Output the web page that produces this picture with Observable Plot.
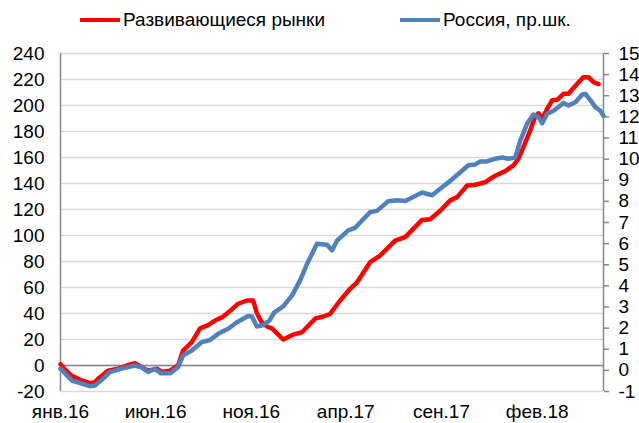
<!DOCTYPE html>
<html><head><meta charset="utf-8">
<script src="https://cdn.jsdelivr.net/npm/d3@7"></script>
<script src="https://cdn.jsdelivr.net/npm/@observablehq/plot@0.6"></script>
<style>
body{margin:0;background:#fff;font-family:"Liberation Sans",Arial,sans-serif;}
#wrap{position:relative;width:639px;height:423px;overflow:hidden;}
.leg{position:absolute;top:9px;font-size:19px;line-height:22px;display:flex;align-items:center;white-space:nowrap;color:#000;}
.sw{display:inline-block;width:40px;height:4px;margin-right:3px;}
</style></head>
<body><div id="wrap"><div id="chart"></div>
<div class="leg" style="left:80px"><span class="sw" style="background:#ff0000"></span>Развивающиеся рынки</div>
<div class="leg" style="left:400px"><span class="sw" style="background:#4f81bd"></span>Россия, пр.шк.</div>
</div>
<script>
const seriesNames = ["Развивающиеся рынки", "Россия, пр.шк."];
const xTickDates = ["2016-01-01","2016-06-01","2016-11-01","2017-04-01","2017-09-01","2018-02-01"];
const xTickLabels = ["янв.16","июн.16","ноя.16","апр.17","сен.17","фев.18"];
const leftTicks = [-20,0,20,40,60,80,100,120,140,160,180,200,220,240];
const rightTicks = [-1,0,1,2,3,4,5,6,7,8,9,10,11,12,13,14,15];

const emDates = ["2016-01-01","2016-01-06","2016-01-19","2016-02-04","2016-02-17","2016-02-25","2016-03-04","2016-03-17","2016-04-02","2016-04-16","2016-04-29","2016-05-10","2016-05-20","2016-06-03","2016-06-11","2016-06-24","2016-07-07","2016-07-15","2016-07-29","2016-08-11","2016-08-24","2016-09-04","2016-09-15","2016-09-28","2016-10-11","2016-10-25","2016-11-04","2016-11-10","2016-11-18","2016-11-26","2016-12-04","2016-12-22","2017-01-07","2017-01-21","2017-02-11","2017-02-24","2017-03-07","2017-03-23","2017-04-08","2017-04-19","2017-05-10","2017-05-26","2017-06-19","2017-07-05","2017-08-01","2017-08-14","2017-08-30","2017-09-15","2017-09-26","2017-10-12","2017-10-25","2017-11-10","2017-11-26","2017-12-12","2017-12-25","2018-01-02","2018-01-10","2018-01-21","2018-01-29","2018-02-03","2018-02-09","2018-02-17","2018-02-25","2018-03-05","2018-03-15","2018-03-23","2018-04-06","2018-04-16","2018-04-24","2018-05-02","2018-05-10"];
const emValues = [1,-2,-8,-11.5,-13.6,-12.8,-9,-4,-2.5,0,1.8,-1.3,-4,-2.5,-5,-4,0,11.5,18,28.5,31,34.6,37,42,47.5,50,50,40,33,30,28.5,20,23.8,25.6,36,37.7,39.7,50,59,64,79.5,84.6,96,98.7,112,112.5,119,127,129.5,138.5,139,141,146,149.5,154,159,168,181,192,194,190,197.5,204,204.4,209,209,216.7,221.8,221.8,218,216.5];

const ruDates = ["2016-01-01","2016-01-19","2016-02-04","2016-02-17","2016-02-25","2016-03-07","2016-03-20","2016-04-08","2016-04-29","2016-05-10","2016-05-20","2016-05-31","2016-06-09","2016-06-24","2016-07-07","2016-07-15","2016-07-29","2016-08-14","2016-08-27","2016-09-09","2016-09-25","2016-10-09","2016-10-27","2016-11-02","2016-11-10","2016-11-19","2016-11-30","2016-12-08","2016-12-22","2017-01-05","2017-01-18","2017-01-29","2017-02-14","2017-03-02","2017-03-10","2017-03-18","2017-04-05","2017-04-16","2017-05-10","2017-05-21","2017-06-08","2017-06-22","2017-07-05","2017-08-01","2017-08-17","2017-08-30","2017-09-15","2017-10-01","2017-10-14","2017-10-25","2017-11-02","2017-11-13","2017-11-26","2017-12-07","2017-12-17","2017-12-28","2018-01-05","2018-01-16","2018-01-26","2018-02-03","2018-02-09","2018-02-17","2018-02-27","2018-03-15","2018-03-23","2018-04-03","2018-04-14","2018-04-19","2018-04-27","2018-05-05","2018-05-13","2018-05-18"];
const ruValues = [0.08,-0.48,-0.63,-0.75,-0.72,-0.45,-0.08,0.08,0.23,0.14,-0.08,0.08,-0.14,-0.14,0.15,0.71,0.94,1.34,1.44,1.73,1.97,2.28,2.57,2.55,2.08,2.13,2.36,2.75,3.03,3.54,4.26,5.03,5.99,5.95,5.68,6.14,6.63,6.75,7.49,7.55,8.01,8.05,8.02,8.42,8.29,8.60,8.97,9.38,9.71,9.75,9.89,9.89,10.02,10.08,10.02,10.08,10.88,11.68,12.11,11.99,11.70,12.15,12.29,12.65,12.54,12.69,13.06,13.09,12.79,12.46,12.29,12.05];

// secondary (right) axis -1..15 mapped onto primary -20..240
const toLeft = v => -20 + (v + 1) * 260 / 16;
const fromLeft = y => (y + 20) * 16 / 260 - 1;

const em = emDates.map((d, i) => ({date: new Date(d), v: emValues[i]}));
const ru = ruDates.map((d, i) => ({date: new Date(d), v: ruValues[i]}));
const xDomain = [new Date("2016-01-01"), new Date("2018-05-18")];
const labelMap = new Map(xTickDates.map((d, i) => [+new Date(d), xTickLabels[i]]));

const chart = Plot.plot({
  width: 639, height: 423,
  marginLeft: 60, marginRight: 36, marginTop: 53, marginBottom: 32,
  style: {fontFamily: "'Liberation Sans', Arial, sans-serif", fontSize: "19px", color: "#000", background: "#fff"},
  x: {type: "utc", domain: xDomain},
  y: {domain: [-20, 240]},
  marks: [
    Plot.gridY(leftTicks, {stroke: "#d9d9d9", strokeOpacity: 1, strokeWidth: 1.5}),
    Plot.ruleY([0], {stroke: "#868686", strokeWidth: 1.5}),
    Plot.ruleX([xDomain[0]], {y1: -20, y2: 240, stroke: "#868686", strokeWidth: 1.5}),
    Plot.ruleX([xDomain[1]], {y1: -20, y2: 240, stroke: "#868686", strokeWidth: 1.5}),
    Plot.axisY(leftTicks, {anchor: "left", tickSize: 0, tickPadding: 16, tickFormat: d => String(d), label: null, fill: "#000"}),
    Plot.axisY(rightTicks.map(toLeft), {anchor: "right", tickSize: 5, tickPadding: 10, tickFormat: d => String(Math.round(fromLeft(d))), label: null, stroke: "#868686", strokeWidth: 1.5, fill: "#000"}),
    Plot.axisX(xTickDates.map(d => new Date(d)), {tickSize: 0, tickPadding: 13, tickFormat: d => labelMap.get(+d), label: null, fill: "#000"}),
    Plot.lineY(em, {x: "date", y: "v", stroke: "#ff0000", strokeWidth: 4.5}),
    Plot.lineY(ru, {x: "date", y: d => toLeft(d.v), stroke: "#4f81bd", strokeWidth: 4.5})
  ]
});
document.getElementById("chart").appendChild(chart);
</script>
</body></html>
